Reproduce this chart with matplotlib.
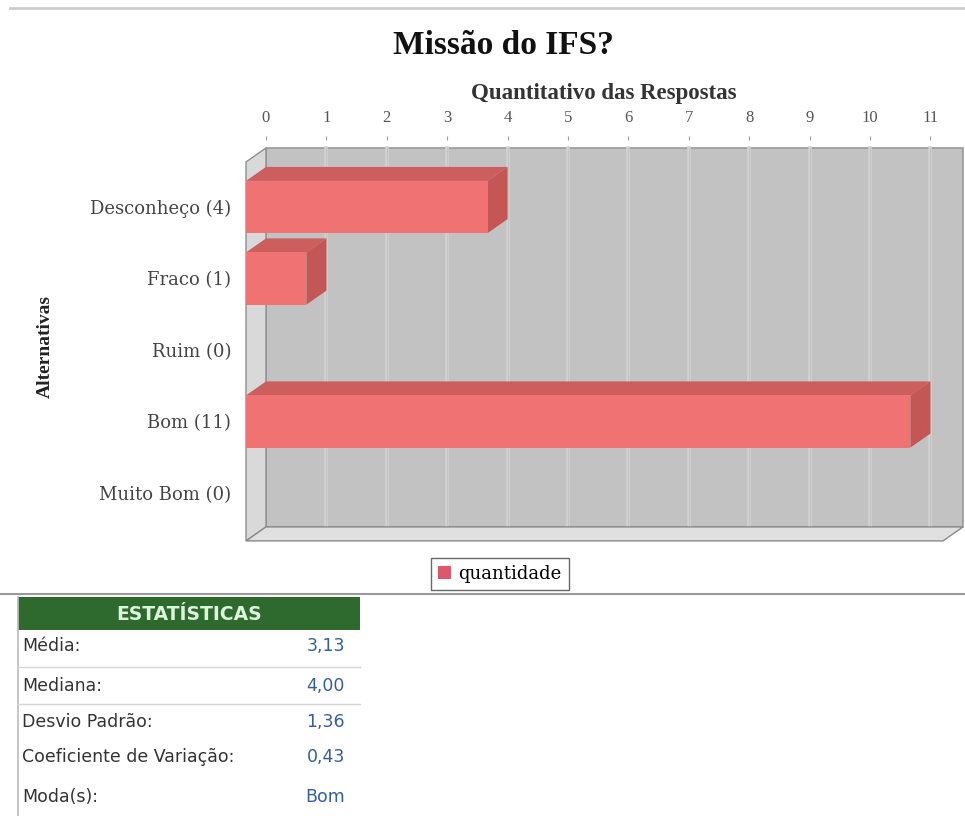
import matplotlib
matplotlib.use("Agg")
import matplotlib.pyplot as plt
from matplotlib.patches import Rectangle, Polygon, Patch

# dados
categorias = ["Desconheço (4)", "Fraco (1)", "Ruim (0)", "Bom (11)", "Muito Bom (0)"]
quantidade = [4, 1, 0, 11, 0]
ticks_x = list(range(0, 12))
stat_labels = ["Média:", "Mediana:", "Desvio Padrão:", "Coeficiente de Variação:", "Moda(s):"]
stat_values = ["3,13", "4,00", "1,36", "0,43", "Bom"]

W, H = 965, 816
fig = plt.figure(figsize=(W / 100, H / 100), dpi=100)

# eixo do grafico (posicao em pixels)
left_px, right_px, top_px, bot_px = 238, 965, 140, 560
ax = fig.add_axes([left_px / W, 1 - bot_px / H, (right_px - left_px) / W, (bot_px - top_px) / H])
px_per_x, x0_px = 60.4, 246
px_per_y, y0_px = 71.5, 207
ax.set_xlim((left_px - x0_px) / px_per_x, (right_px - x0_px) / px_per_x)
ax.set_ylim((bot_px - y0_px) / px_per_y, (top_px - y0_px) / px_per_y)

dx = 20 / px_per_x
dy = 14 / px_per_y
xmax = 11.54
ytop, ybot = -0.63, 4.67
h = 0.73

# paredes
ax.add_patch(Rectangle((dx, ytop - dy), xmax, ybot - ytop, facecolor="#c2c2c2",
                       edgecolor="#9a9a9a", lw=1.2, zorder=1))
ax.add_patch(Polygon([(0, ytop), (dx, ytop - dy), (dx, ybot - dy), (0, ybot)],
                     closed=True, facecolor="#d9d9d9", edgecolor="#8f8f8f", lw=1, zorder=2))
ax.add_patch(Polygon([(0, ybot), (xmax, ybot), (xmax + dx, ybot - dy), (dx, ybot - dy)],
                     closed=True, facecolor="#e0e0e0", edgecolor="#8a8a8a", lw=1, zorder=2))
for v in ticks_x[1:]:
    ax.plot([v + dx, v + dx], [ytop - dy, ybot - dy], color="#d2d2d2", lw=2.6, zorder=1.5)
    ax.plot([v + dx, v + dx], [ytop - dy, ybot - dy], color="#c4c4c4", lw=0.8, zorder=1.6)

# barras 3d
for i, v in enumerate(quantidade):
    if v <= 0:
        continue
    yt, yb = i - h / 2, i + h / 2
    ax.add_patch(Rectangle((0, yt), v, h, facecolor="#f07272", edgecolor="none", zorder=4))
    ax.add_patch(Polygon([(0, yt), (v, yt), (v + dx, yt - dy), (dx, yt - dy)], closed=True,
                         facecolor="#cc5e5e", edgecolor="none", zorder=3))
    ax.add_patch(Polygon([(v, yt), (v + dx, yt - dy), (v + dx, yb - dy), (v, yb)], closed=True,
                         facecolor="#c45656", edgecolor="none", zorder=3))

ax.xaxis.tick_top()
ax.set_xticks([t + dx for t in ticks_x])
ax.set_xticklabels([str(t) for t in ticks_x], family="Liberation Serif", fontsize=12, color="#555555")
ax.tick_params(axis="x", length=3, width=0.8, color="#999999", pad=7)
ax.set_yticks(range(len(categorias)))
ax.set_yticklabels(categorias, family="DejaVu Serif", fontsize=13, color="#444444")
ax.tick_params(axis="y", length=0, pad=5)
for s in ax.spines.values():
    s.set_visible(False)
ax.set_facecolor("none")

fig.legend(handles=[Patch(facecolor="#e0566a", edgecolor="none", label="quantidade")],
           loc="center", bbox_to_anchor=(500 / W, 1 - 574 / H), frameon=True, fancybox=False,
           edgecolor="#444444", handlelength=0.7, handleheight=0.7, handletextpad=0.4,
           borderpad=0.4, borderaxespad=0, prop={"family": "DejaVu Serif", "size": 13})

# textos e tabela (camada em pixels)
ov = fig.add_axes([0, 0, 1, 1], zorder=-1)
ov.set_xlim(0, W)
ov.set_ylim(H, 0)
ov.axis("off")
ov.plot([10, W], [8, 8], color="#cccccc", lw=2)
ov.plot([0, W], [594, 594], color="#9a9a9a", lw=1.5)
ov.text(503, 45, "Missão do IFS?", ha="center", va="center", family="Liberation Serif",
        fontweight="bold", fontsize=24, color="#111111")
ov.text(604, 94, "Quantitativo das Respostas", ha="center", va="center", family="Liberation Serif",
        fontweight="bold", fontsize=16.5, color="#333333")
ov.text(45, 347, "Alternativas", ha="center", va="center", rotation=90, family="Liberation Serif",
        fontweight="bold", fontsize=14, color="#222222")

ov.add_patch(Rectangle((18, 597), 342, 33, facecolor="#2e6a2e", edgecolor="none"))
ov.text(189, 614, "ESTATÍSTICAS", ha="center", va="center", family="DejaVu Sans",
        fontweight="bold", fontsize=13.5, color="#dcf3dc")
ov.plot([18, 18], [597, H], color="#bbbbbb", lw=1.2)
row_y = [646, 686, 722, 757, 797]
for y, lab, val in zip(row_y, stat_labels, stat_values):
    ov.text(22, y, lab, ha="left", va="center", family="DejaVu Sans", fontsize=12.5, color="#333333")
    ov.text(345, y, val, ha="right", va="center", family="DejaVu Sans", fontsize=12.5, color="#34609a")
for y in [667, 704]:
    ov.plot([18, 360], [y, y], color="#d6d6d6", lw=1)

fig.savefig("out.png", dpi=100)
